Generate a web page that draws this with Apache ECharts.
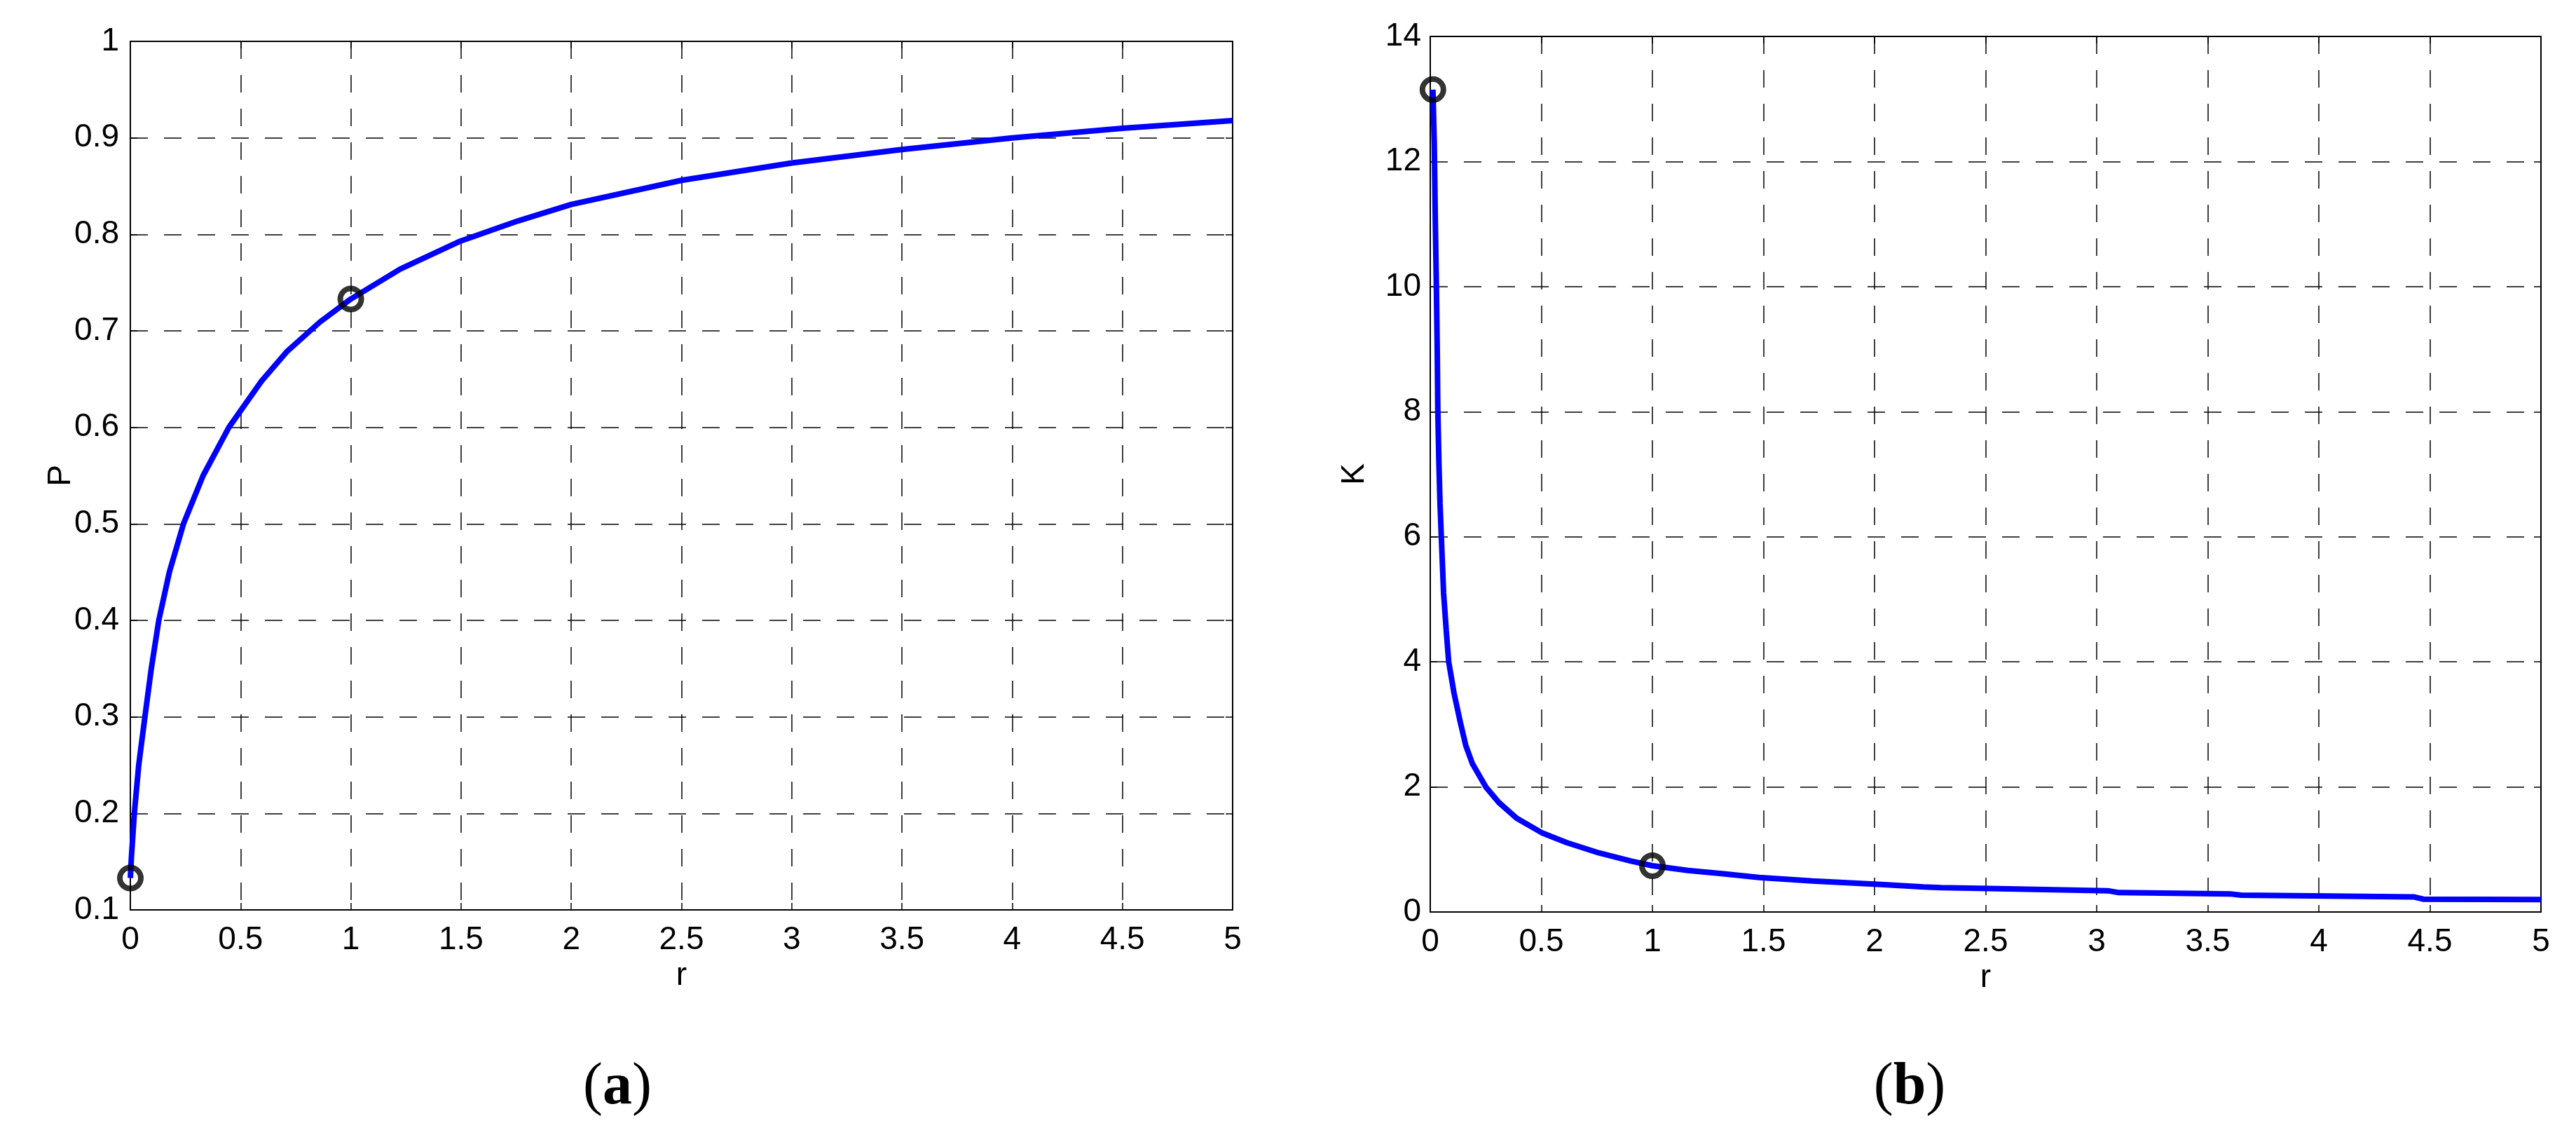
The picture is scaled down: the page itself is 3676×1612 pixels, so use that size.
<!DOCTYPE html>
<html>
<head>
<meta charset="utf-8">
<title>P and K versus r</title>
<script src="https://cdn.jsdelivr.net/npm/echarts@6/dist/echarts.min.js"></script>
<style>
  html, body { margin: 0; padding: 0; background: #fff; }
  #chart { width: 3676px; height: 1612px; }
</style>
</head>
<body>
<div id="chart"></div>
<script>
// (a) P against r
const rA = [0, 0.005, 0.018, 0.038, 0.066, 0.095, 0.129, 0.177, 0.241, 0.33, 0.447,
  0.595, 0.712, 0.859, 1.0, 1.224, 1.497, 1.759, 2.0, 2.5, 3.0, 3.5, 4.0, 4.5, 5.0];
const pA = [0.133, 0.155, 0.2, 0.25, 0.3, 0.35, 0.4, 0.45, 0.5, 0.55, 0.6,
  0.648, 0.679, 0.709, 0.733, 0.764, 0.793, 0.814, 0.831, 0.856, 0.874, 0.888, 0.9, 0.91, 0.918];
const markA = [[0, 0.133], [1, 0.733]];

// (b) K against r
const rB = [0.012, 0.018, 0.023, 0.028, 0.0315, 0.034, 0.039, 0.044, 0.0495, 0.06, 0.072,
  0.083, 0.107, 0.135, 0.16, 0.19, 0.25, 0.309, 0.389, 0.506, 0.614, 0.759, 0.904,
  1.0, 1.16, 1.32, 1.48, 1.72, 2.03, 2.22, 2.3, 2.6, 3.05, 3.1, 3.6, 3.65, 4.43, 4.47, 5.0];
const kB = [13.15, 12.3, 11.0, 9.9, 8.96, 8.03, 7.17, 6.53, 6.03, 5.1, 4.5,
  4.0, 3.5, 3.04, 2.66, 2.37, 2.0, 1.75, 1.5, 1.26, 1.11, 0.945, 0.815,
  0.74, 0.665, 0.61, 0.553, 0.497, 0.44, 0.40, 0.39, 0.37, 0.34, 0.31, 0.29, 0.27, 0.24, 0.205, 0.20];
const markB = [[0.012, 13.15], [1, 0.74]];

const chart = echarts.init(document.getElementById("chart"));

const labelFont = { fontFamily: "Liberation Sans", fontSize: 46, color: "#000" };
const gridLine = { show: true, lineStyle: { color: "#000", width: 1.5, type: [25, 23] } };
const tick = { show: true, inside: true, length: 10, lineStyle: { color: "#000", width: 1.5 } };
const axisBlack = { show: true, onZero: false, lineStyle: { color: "#000", width: 2 } };

function xAxisFor(gridIndex) {
  return {
    type: "value",
    gridIndex: gridIndex,
    min: 0,
    max: 5,
    interval: 0.5,
    name: "r",
    nameLocation: "middle",
    nameGap: 48,
    nameTextStyle: labelFont,
    axisLine: axisBlack,
    axisTick: tick,
    axisLabel: Object.assign({ margin: 20 }, labelFont),
    splitLine: gridLine,
  };
}

// top edge with inward ticks only (MATLAB box style)
function xTopFor(gridIndex) {
  return {
    type: "value",
    gridIndex: gridIndex,
    position: "top",
    min: 0,
    max: 5,
    interval: 0.5,
    axisLine: axisBlack,
    axisTick: tick,
    axisLabel: { show: false },
    splitLine: { show: false },
  };
}

function yRightFor(gridIndex, min, max, interval) {
  return {
    type: "value",
    gridIndex: gridIndex,
    position: "right",
    min: min,
    max: max,
    interval: interval,
    axisLine: axisBlack,
    axisTick: tick,
    axisLabel: { show: false },
    splitLine: { show: false },
  };
}

const lineStyle = { color: "#0000ff", width: 8 };
const ring = { color: "rgba(0,0,0,0)", borderColor: "#000", borderWidth: 8 };

const option = {
  animation: false,
  backgroundColor: "#fff",
  grid: [
    { left: 186, top: 59, width: 1573, height: 1239 },
    { left: 2041, top: 52, width: 1585, height: 1249 },
  ],
  xAxis: [xAxisFor(0), xAxisFor(1), xTopFor(0), xTopFor(1)],
  yAxis: [
    {
      type: "value",
      gridIndex: 0,
      min: 0.1,
      max: 1,
      interval: 0.1,
      name: "P",
      nameLocation: "middle",
      nameGap: 76,
      nameMoveOverlap: false,
      nameTextStyle: labelFont,
      axisLine: axisBlack,
      axisTick: tick,
      axisLabel: Object.assign({ margin: 16, formatter: (v) => (Math.round(v * 10) / 10).toString() }, labelFont),
      splitLine: gridLine,
    },
    {
      type: "value",
      gridIndex: 1,
      min: 0,
      max: 14,
      interval: 2,
      name: "K",
      nameLocation: "middle",
      nameGap: 85,
      nameTextStyle: labelFont,
      axisLine: axisBlack,
      axisTick: tick,
      axisLabel: Object.assign({ margin: 13 }, labelFont),
      splitLine: gridLine,
    },
    yRightFor(0, 0.1, 1, 0.1),
    yRightFor(1, 0, 14, 2),
  ],
  series: [
    {
      type: "line",
      xAxisIndex: 0,
      yAxisIndex: 0,
      data: rA.map((r, i) => [r, pA[i]]),
      showSymbol: false,
      lineStyle: lineStyle,
      z: 3,
    },
    {
      type: "line",
      xAxisIndex: 1,
      yAxisIndex: 1,
      data: rB.map((r, i) => [r, kB[i]]),
      showSymbol: false,
      lineStyle: lineStyle,
      z: 3,
    },
    {
      type: "scatter",
      xAxisIndex: 0,
      yAxisIndex: 0,
      data: markA,
      symbol: "circle",
      symbolSize: 30,
      itemStyle: ring,
      z: 4,
    },
    {
      type: "scatter",
      xAxisIndex: 1,
      yAxisIndex: 1,
      data: markB,
      symbol: "circle",
      symbolSize: 30,
      itemStyle: ring,
      z: 4,
    },
  ],
};

// captions: plain parentheses, bold letter
const capRich = {
  p: { fontFamily: "Liberation Serif", fontSize: 84, fill: "#000" },
  b: { fontFamily: "Liberation Serif", fontSize: 84, fontWeight: "bold", fill: "#000" },
};
option.graphic = [
  { type: "text", x: 881, y: 1552, style: { text: "{p|(}{b|a}{p|)}", rich: capRich, align: "center", verticalAlign: "middle" } },
  { type: "text", x: 2725, y: 1552, style: { text: "{p|(}{b|b}{p|)}", rich: capRich, align: "center", verticalAlign: "middle" } },
];

chart.setOption(option);
</script>
</body>
</html>
